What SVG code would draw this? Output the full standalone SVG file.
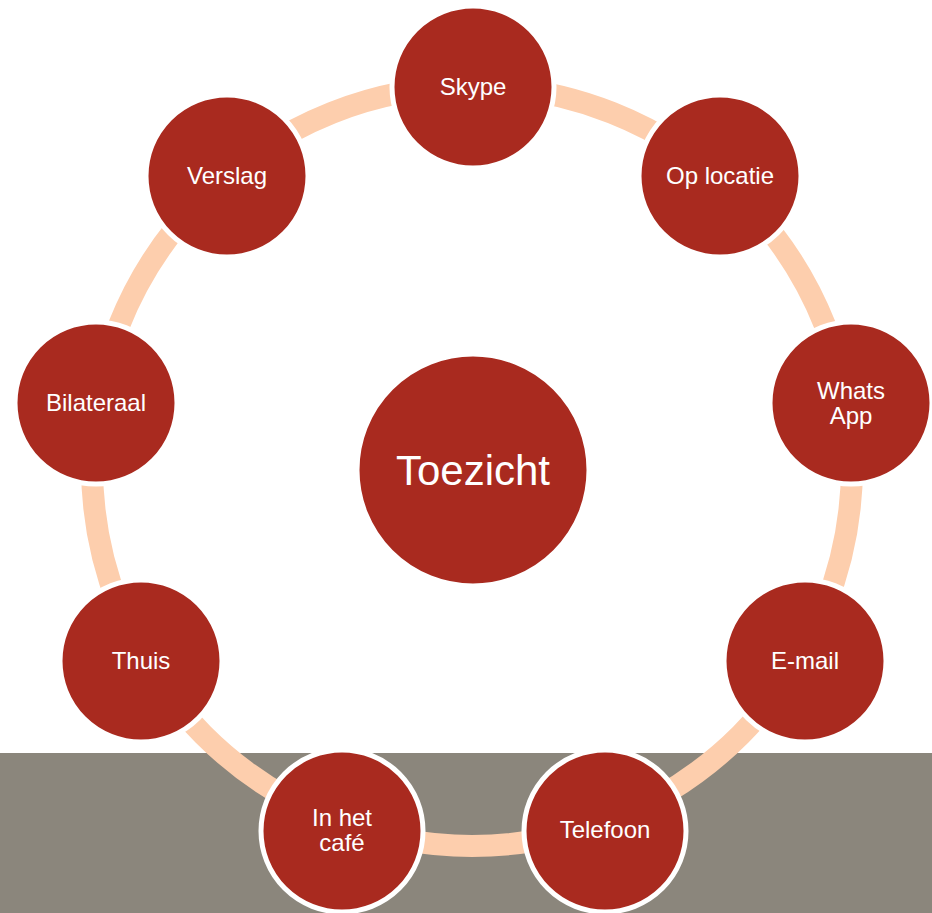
<svg xmlns="http://www.w3.org/2000/svg" width="932" height="913" viewBox="0 0 932 913">
<style>
.node{fill:#A92A1F;stroke:#FFFFFF;stroke-width:5}
.lbl{font-family:"Liberation Sans",Arial,sans-serif;font-size:24px;fill:#FFFFFF;text-anchor:middle}
.big{font-size:42px}
</style>
<rect x="0" y="0" width="932" height="913" fill="#FFFFFF"/>
<rect x="0" y="753" width="932" height="160" fill="#8B867C"/>
<g id="connectors">
<circle cx="472" cy="466" r="380" fill="none" stroke="#FDCEAD" stroke-width="22"/>
</g>
<g id="toezicht"><circle class="node" cx="473" cy="470" r="116" stroke-width="0"/><text class="lbl big" x="473" y="485">Toezicht</text></g>
<g id="skype"><circle class="node" cx="473" cy="87" r="81"/><text class="lbl" x="473" y="95">Skype</text></g>
<g id="oplocatie"><circle class="node" cx="720" cy="176" r="81"/><text class="lbl" x="720" y="184">Op locatie</text></g>
<g id="whatsapp"><circle class="node" cx="851" cy="403" r="81"/><text class="lbl" x="851" y="399">Whats</text><text class="lbl" x="851" y="424">App</text></g>
<g id="email"><circle class="node" cx="805" cy="661" r="81"/><text class="lbl" x="805" y="669">E-mail</text></g>
<g id="telefoon"><circle class="node" cx="605" cy="831" r="81"/><text class="lbl" x="605" y="838">Telefoon</text></g>
<g id="cafe"><circle class="node" cx="342" cy="831" r="81"/><text class="lbl" x="342" y="826">In het</text><text class="lbl" x="342" y="851">café</text></g>
<g id="thuis"><circle class="node" cx="141" cy="661" r="81"/><text class="lbl" x="141" y="669">Thuis</text></g>
<g id="bilateraal"><circle class="node" cx="96" cy="403" r="81"/><text class="lbl" x="96" y="411">Bilateraal</text></g>
<g id="verslag"><circle class="node" cx="227" cy="176" r="81"/><text class="lbl" x="227" y="184">Verslag</text></g>
</svg>
